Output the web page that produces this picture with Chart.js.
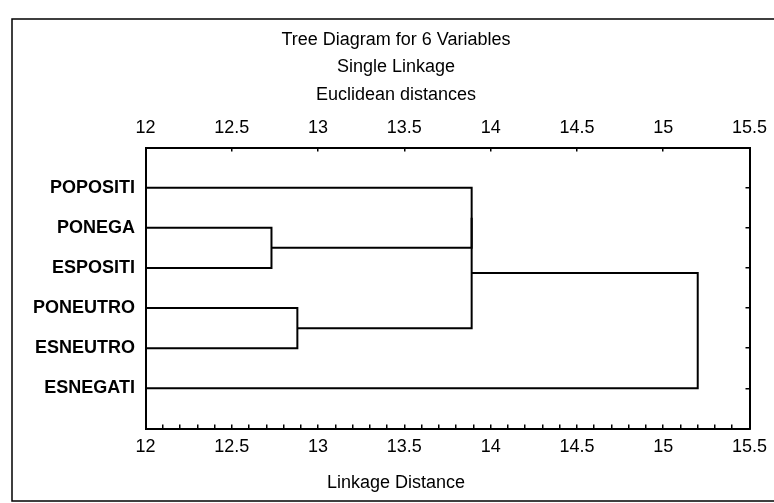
<!DOCTYPE html>
<html><head><meta charset="utf-8">
<script src="https://cdn.jsdelivr.net/npm/chart.js@4.4.1/dist/chart.umd.min.js"></script>
<style>html,body{margin:0;padding:0;background:#fff;} #wrap{width:774px;height:503px;}</style>
</head><body><div id="wrap"><canvas id="c" width="774" height="503"></canvas></div>
<script>
// ---- data ----
const leaves = ['POPOSITI','PONEGA','ESPOSITI','PONEUTRO','ESNEUTRO','ESNEGATI'];
// cluster ids: 0-5 leaves, 6.. successive merges
const mergeA = [1, 3, 0, 8, 9];
const mergeB = [2, 4, 6, 7, 5];
const mergeDist = [12.73, 12.88, 13.89, 13.89, 15.2];
const xTickValues = [12, 12.5, 13, 13.5, 14, 14.5, 15, 15.5];
const xTickLabels = ['12','12.5','13','13.5','14','14.5','15','15.5'];
const xMinorStep = 0.1;
const titleLines = ['Tree Diagram for 6 Variables','Single Linkage','Euclidean distances'];
const xTitle = 'Linkage Distance';

// ---- build dendrogram segments ----
const xMin = xTickValues[0], xMax = xTickValues[xTickValues.length - 1];
const nodeY = leaves.map((_, i) => i + 1);
const nodeH = leaves.map(() => xMin);
const datasets = [];
mergeDist.forEach((d, k) => {
  const a = mergeA[k], b = mergeB[k];
  datasets.push({
    data: [{x: nodeH[a], y: nodeY[a]}, {x: d, y: nodeY[a]}, {x: d, y: nodeY[b]}, {x: nodeH[b], y: nodeY[b]}],
    showLine: true, borderColor: '#000', borderWidth: 2, pointRadius: 0, fill: false, tension: 0,
    borderJoinStyle: 'miter'
  });
  nodeY.push((nodeY[a] + nodeY[b]) / 2);
  nodeH.push(d);
});

const FAM = '"Liberation Sans", Arial, Helvetica, sans-serif';
const frame = {
  id: 'frame',
  beforeDraw(chart) {
    const c = chart.ctx; c.save();
    c.fillStyle = '#fff'; c.fillRect(0, 0, chart.width, chart.height);
    c.strokeStyle = '#000'; c.lineWidth = 1.5;
    c.strokeRect(12, 19, 770, 482);
    c.restore();
  }
};

const tickGrid = {drawOnChartArea: false, drawTicks: true, tickLength: -4, color: '#000', lineWidth: 1.5};
const border = {display: true, color: '#000', width: 2};
const noPadH = s => { s.paddingLeft = 0; s.paddingRight = 0; };
const noPadV = s => { s.paddingTop = 0; s.paddingBottom = 0; };

new Chart(document.getElementById('c'), {
  type: 'scatter',
  data: {datasets},
  plugins: [frame],
  options: {
    responsive: false, animation: false, devicePixelRatio: 1,
    layout: {padding: {left: 18, right: 0, top: 0, bottom: 0}},
    plugins: {
      legend: {display: false}, tooltip: {enabled: false},
      title: {display: true, text: titleLines, color: '#000',
        font: {family: FAM, size: 18, weight: 'normal', lineHeight: 27.5 / 18},
        padding: {top: 26.25, bottom: 11.25}},
      subtitle: {display: true, position: 'bottom', text: xTitle, color: '#000',
        font: {family: FAM, size: 18, weight: 'normal', lineHeight: 1.2},
        padding: {top: 3.7, bottom: 9.2}}
    },
    scales: {
      x: {
        type: 'linear', position: 'bottom', min: xMin, max: xMax,
        afterBuildTicks: s => {
          const n = Math.round((xMax - xMin) / xMinorStep);
          const t = [];
          for (let i = 0; i <= n; i++) t.push({value: +(xMin + i * xMinorStep).toFixed(3)});
          s.ticks = t;
        },
        ticks: {autoSkip: false, maxRotation: 0, padding: 12.2, color: '#000',
          font: {family: FAM, size: 18},
          callback: (v, i) => (i % 5 === 0 ? xTickLabels[i / 5] : '')},
        grid: tickGrid, border,
        afterFit: s => { s.height = 40; noPadH(s); }
      },
      x2: {
        type: 'linear', position: 'top', min: xMin, max: xMax,
        afterBuildTicks: s => { s.ticks = xTickValues.map(v => ({value: v})); },
        ticks: {autoSkip: false, maxRotation: 0, padding: 12.2, color: '#000',
          font: {family: FAM, size: 18},
          callback: (v, i) => xTickLabels[i]},
        grid: tickGrid, border,
        afterFit: s => { s.height = 27.5; noPadH(s); }
      },
      y: {
        type: 'linear', position: 'left', min: 0, max: leaves.length + 1, reverse: true,
        afterBuildTicks: s => { s.ticks = leaves.map((_, i) => ({value: i + 1})); },
        ticks: {autoSkip: false, padding: 10.5, color: '#000',
          font: {family: FAM, size: 18, weight: 'bold'},
          callback: (v, i) => leaves[i]},
        grid: {drawOnChartArea: false, drawTicks: false},
        border,
        afterFit: s => { s.width = 127.5; noPadV(s); }
      },
      y2: {
        type: 'linear', position: 'right', min: 0, max: leaves.length + 1, reverse: true,
        afterBuildTicks: s => { s.ticks = leaves.map((_, i) => ({value: i + 1})); },
        ticks: {display: false},
        grid: tickGrid, border,
        afterFit: s => { s.width = 24.5; noPadV(s); }
      }
    }
  }
});
</script>
</body></html>
